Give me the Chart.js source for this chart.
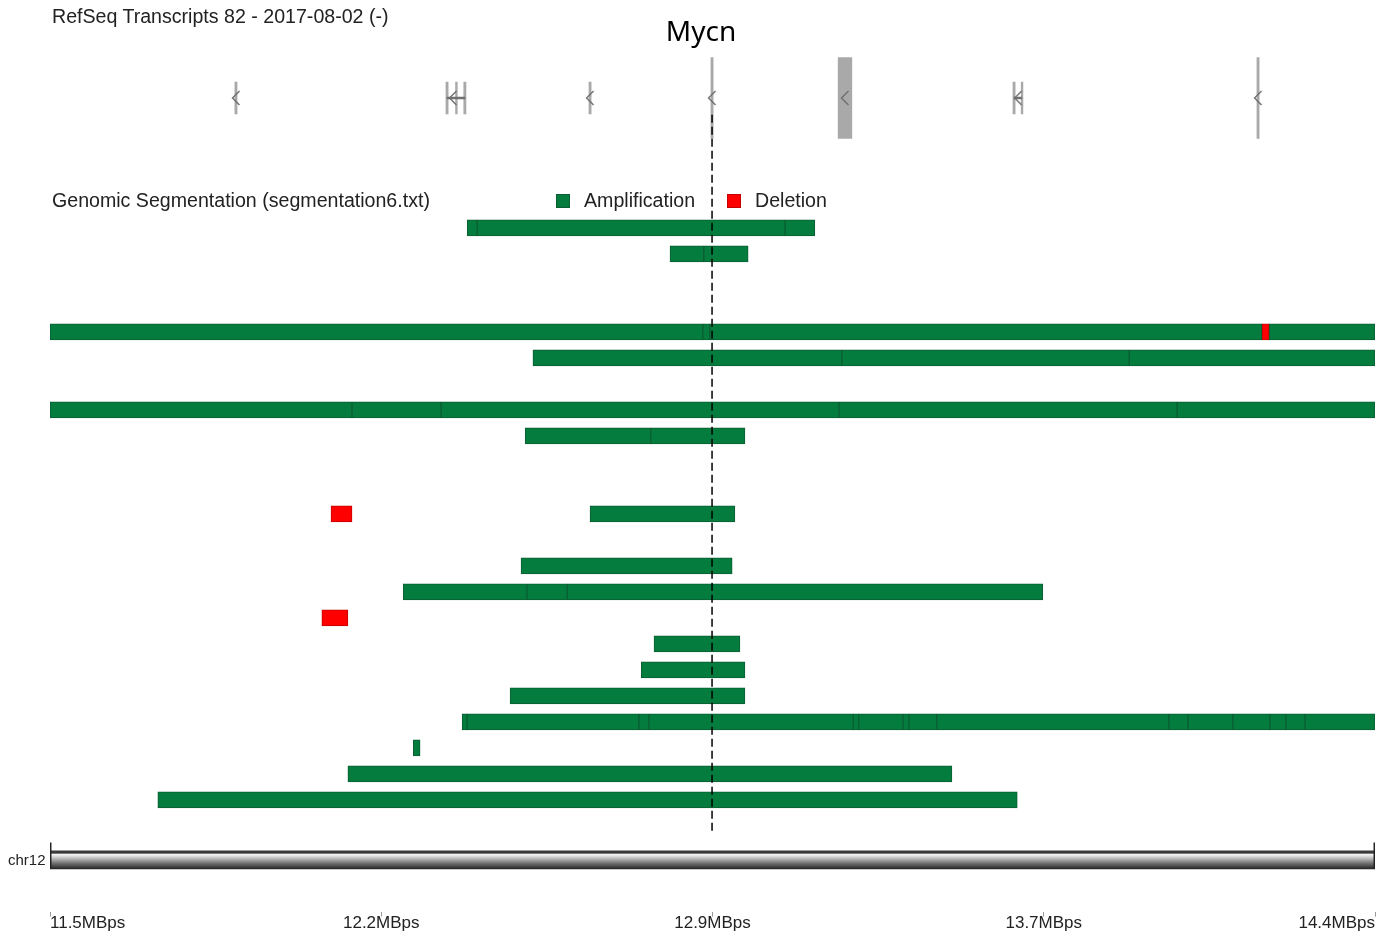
<!DOCTYPE html>
<html>
<head>
<meta charset="utf-8">
<title>Mycn segmentation</title>
<script src="https://cdn.jsdelivr.net/npm/chart.js@4.4.0/dist/chart.umd.min.js"></script>
<style>
  body { margin: 0; background: #fff; }
  #wrap { position: relative; width: 1390px; height: 934px; font-family: 'Liberation Sans', Arial, sans-serif; color: #222; }
  #wrap canvas { position: absolute; left: 0; top: 0; }
  .lbl { position: absolute; white-space: nowrap; line-height: 1; font-size: 19.6px; }
  .sw { position: absolute; width: 14px; height: 14px; box-sizing: border-box; }
</style>
</head>
<body>
<div id="wrap">
  <canvas id="track" width="1390" height="934"></canvas>
  <div class="lbl" style="left:52px; top:7px;">RefSeq Transcripts 82 - 2017-08-02 (-)</div>
  <div class="lbl" style="left:631px; top:16px; width:140px; text-align:center; font-family:'Noto Sans', sans-serif; font-size:28px; color:#000;">Mycn</div>
  <div class="lbl" style="left:52px; top:191px;">Genomic Segmentation (segmentation6.txt)</div>
  <div id="legend"></div>
  <div class="lbl" style="left:8px; top:852px; font-size:15px;">chr12</div>
</div>
<script>
// x range of the view, in MBps
const viewStart = 11.48;
const viewEnd = 14.38;

// axis ticks
const tickPositions = [11.48, 12.205, 12.93, 13.655, 14.38];
const tickLabels = ['11.5MBps', '12.2MBps', '12.9MBps', '13.7MBps', '14.4MBps'];

// RefSeq genes in view (MBps)
const geneStarts = [11.8846, 12.3466, 12.3676, 12.3856, 12.6596, 12.9266, 13.205, 13.5876, 13.6056, 14.1216];
const geneEnds   = [11.8894, 12.3514, 12.3714, 12.3904, 12.6644, 12.9314, 13.235, 13.5924, 13.6094, 14.1264];
const geneTall   = [false, false, false, false, false, true, true, false, false, true];
const strandMarks = [11.887, 12.362, 12.662, 12.929, 13.220, 13.599, 14.124];
const intronStarts = [12.349, 13.590];
const intronEnds = [12.388, 13.607];

// Mycn locus
const mycnPos = 12.929;

// segmentation: [sample row, start, end]
const ampSegments = [
  [0, 12.393, 12.415], [0, 12.415, 13.089], [0, 13.089, 13.154],
  [1, 12.837, 12.911], [1, 12.911, 13.008],
  [4, 11.48, 12.909], [4, 12.909, 12.924], [4, 12.924, 14.133], [4, 14.148, 14.38],
  [5, 12.537, 13.213], [5, 13.213, 13.842], [5, 13.842, 14.38],
  [7, 11.48, 12.141], [7, 12.141, 12.336], [7, 12.336, 13.207], [7, 13.207, 13.947], [7, 13.947, 14.38],
  [8, 12.520, 12.795], [8, 12.795, 13.001],
  [11, 12.662, 12.979],
  [13, 12.511, 12.973],
  [14, 12.253, 12.524], [14, 12.524, 12.612], [14, 12.612, 13.653],
  [16, 12.802, 12.990],
  [17, 12.774, 13.001],
  [18, 12.487, 13.001],
  [19, 12.382, 12.393], [19, 12.393, 12.769], [19, 12.769, 12.791], [19, 12.791, 13.238],
  [19, 13.238, 13.250], [19, 13.250, 13.347], [19, 13.347, 13.360], [19, 13.360, 13.421],
  [19, 13.421, 13.929], [19, 13.929, 13.971], [19, 13.971, 14.069], [19, 14.069, 14.150],
  [19, 14.150, 14.185], [19, 14.185, 14.227], [19, 14.227, 14.38],
  [20, 12.275, 12.290],
  [21, 12.132, 13.454],
  [22, 11.716, 13.597]
];
const delSegments = [
  [4, 14.133, 14.148],
  [11, 12.095, 12.141],
  [15, 12.075, 12.132]
];

// layout rows (segment rows are 0..22, 26px apart)
const GENE_ROW = -5;
const CHROM_ROW = 24.31;
const CAP_ROW = 24.15;
const DASH_TOP = -4.35;
const DASH_BOTTOM = 23.27;
const Y_MIN = -228 / 26;
const Y_MAX = Y_MIN + 911.8 / 26;

const AMP_COLOR = '#047c3e';
const DEL_COLOR = '#ff0000';
const GENE_COLOR = '#a9a9a9';

// legend, built from the same colors as the datasets
const legendItems = [
  { text: 'Amplification', color: AMP_COLOR, border: '#0b5e33', x: 556 },
  { text: 'Deletion', color: DEL_COLOR, border: '#c40000', x: 727 }
];
const legendDiv = document.getElementById('legend');
legendItems.forEach((item) => {
  const sw = document.createElement('div');
  sw.className = 'sw';
  sw.style.left = item.x + 'px';
  sw.style.top = '194px';
  sw.style.background = item.color;
  sw.style.border = '1px solid ' + item.border;
  legendDiv.appendChild(sw);
  const t = document.createElement('div');
  t.className = 'lbl';
  t.style.left = (item.x + 28) + 'px';
  t.style.top = '191px';
  t.textContent = item.text;
  legendDiv.appendChild(t);
});

// little "<" glyph for the minus strand
function makeChevron() {
  const c = document.createElement('canvas');
  c.width = 10;
  c.height = 16;
  const g = c.getContext('2d');
  g.strokeStyle = '#6e6e6e';
  g.lineWidth = 1.4;
  g.beginPath();
  g.moveTo(8.5, 1);
  g.lineTo(1.5, 8);
  g.lineTo(8.5, 15);
  g.stroke();
  return c;
}

// shaded ideogram fill
function chromFill(context) {
  const chart = context.chart;
  if (!chart.chartArea) return '#666';
  const yc = chart.scales.y.getPixelForValue(CHROM_ROW);
  const g = chart.ctx.createLinearGradient(0, yc - 9, 0, yc + 9);
  g.addColorStop(0, '#3a3a3a');
  g.addColorStop(0.12, '#3a3a3a');
  g.addColorStop(0.2, '#f4f4f4');
  g.addColorStop(0.35, '#cfcfcf');
  g.addColorStop(0.7, '#6e6e6e');
  g.addColorStop(1, '#262626');
  return g;
}

const toBars = (list) => list.map((s) => ({ x: [s[1], s[2]], y: s[0] }));

const tallGenes = [];
const shortGenes = [];
geneStarts.forEach((s, i) => {
  const bar = { x: [s, geneEnds[i]], y: GENE_ROW };
  if (geneTall[i]) tallGenes.push(bar); else shortGenes.push(bar);
});

const barBase = { type: 'bar', indexAxis: 'y', grouped: false, borderSkipped: false };

new Chart(document.getElementById('track'), {
  type: 'bar',
  data: {
    datasets: [
      {
        type: 'line',
        label: 'Mycn',
        data: [{ x: mycnPos, y: DASH_TOP }, { x: mycnPos, y: DASH_BOTTOM }],
        borderColor: '#000',
        borderWidth: 1.5,
        borderDash: [8, 4],
        pointRadius: 0
      },
      {
        type: 'scatter',
        label: 'strand',
        data: strandMarks.map((x) => ({ x: x, y: GENE_ROW })),
        pointStyle: makeChevron(),
        pointRadius: 5
      },
      Object.assign({}, barBase, {
        label: 'introns',
        data: intronStarts.map((s, i) => ({ x: [s, intronEnds[i]], y: GENE_ROW })),
        backgroundColor: '#707070',
        barThickness: 2
      }),
      Object.assign({}, barBase, {
        label: 'genes',
        data: tallGenes,
        backgroundColor: GENE_COLOR,
        barThickness: 81
      }),
      Object.assign({}, barBase, {
        label: 'genes short',
        data: shortGenes,
        backgroundColor: GENE_COLOR,
        barThickness: 32
      }),
      Object.assign({}, barBase, {
        label: 'Deletion',
        data: toBars(delSegments),
        backgroundColor: DEL_COLOR,
        borderColor: '#c40000',
        borderWidth: 1,
        barThickness: 16
      }),
      Object.assign({}, barBase, {
        label: 'Amplification',
        data: toBars(ampSegments),
        backgroundColor: AMP_COLOR,
        borderColor: '#0b5e33',
        borderWidth: 1,
        barThickness: 16
      }),
      Object.assign({}, barBase, {
        label: 'chr ends',
        data: [{ x: [viewStart, viewStart + 0.0025], y: CAP_ROW }, { x: [viewEnd - 0.0025, viewEnd], y: CAP_ROW }],
        backgroundColor: '#222',
        barThickness: 26
      }),
      Object.assign({}, barBase, {
        label: 'chr12',
        data: [{ x: [viewStart, viewEnd], y: CHROM_ROW }],
        backgroundColor: chromFill,
        barThickness: 18
      })
    ]
  },
  options: {
    responsive: false,
    animation: false,
    indexAxis: 'y',
    layout: { autoPadding: false, padding: { left: 50, right: 15, top: 0, bottom: 3 } },
    plugins: {
      legend: { display: false },
      tooltip: { enabled: false },
      title: { display: false }
    },
    scales: {
      x: {
        type: 'linear',
        position: 'bottom',
        min: viewStart,
        max: viewEnd,
        border: { display: false },
        grid: { drawOnChartArea: false, drawTicks: true, tickLength: 5, color: '#999' },
        afterBuildTicks: (scale) => {
          scale.ticks = tickPositions.map((v) => ({ value: v }));
        },
        ticks: {
          align: 'inner',
          autoSkip: false,
          maxRotation: 0,
          padding: -3,
          color: '#222',
          font: { family: 'Liberation Sans', size: 17 },
          callback: (value, index) => tickLabels[index]
        }
      },
      y: {
        type: 'linear',
        display: false,
        reverse: true,
        offset: false,
        min: Y_MIN,
        max: Y_MAX
      }
    }
  }
});
</script>
</body>
</html>
